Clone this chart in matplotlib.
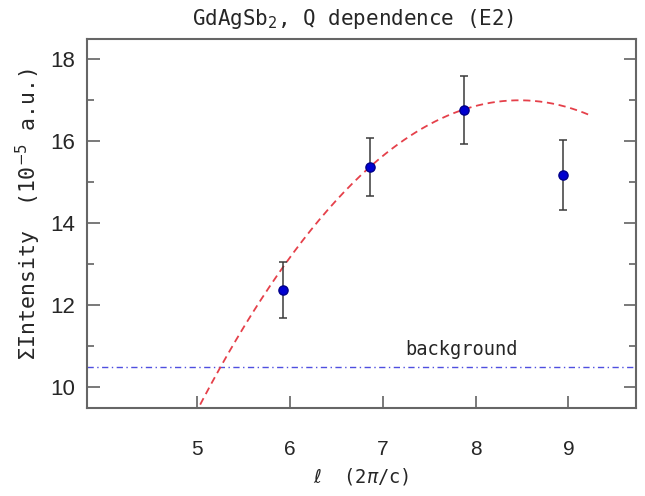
import numpy as np
import matplotlib
matplotlib.use("Agg")
import matplotlib.pyplot as plt
from matplotlib.ticker import MultipleLocator

# Measured integrated intensities vs l
l_values = [5.92, 6.86, 7.87, 8.94]
intensity = [12.38, 15.37, 16.77, 15.18]
intensity_err = [0.68, 0.71, 0.83, 0.85]

# Quadratic model curve: I(l) = I0 - k*(l - l0)^2
fit_vertex_l = 8.47
fit_vertex_I = 17.0
fit_curvature = 0.628
fit_l_range = [4.8, 9.23]

background_level = 10.5

x_ticks = [5, 6, 7, 8, 9]
y_ticks = [10, 12, 14, 16, 18]

mono = "DejaVu Sans Mono"
sans = "Liberation Sans"
text_color = "#262626"

fig = plt.figure(figsize=(6.45, 4.96), dpi=100)
ax = fig.add_axes([0.1344, 0.1774, 0.8516, 0.744])

# model curve
coeffs = np.array([-fit_curvature,
                   2 * fit_curvature * fit_vertex_l,
                   fit_vertex_I - fit_curvature * fit_vertex_l ** 2])
lc = np.linspace(fit_l_range[0], fit_l_range[1], 200)
ax.plot(lc, np.polyval(coeffs, lc), color="#e5404a", lw=1.3,
        dashes=(4, 2.6), zorder=2)

# background level
ax.axhline(background_level, color="#4f4fe0", lw=1.0,
           dashes=(4.5, 2.5, 1, 2.5), zorder=1)
ax.text(7.85, 10.93, "background", family=mono, fontsize=13.5,
        color=text_color, ha="center", va="center")

# data with error bars
ax.errorbar(l_values, intensity, yerr=intensity_err, fmt="o",
            color="#0000d0", mec="#00008a", ms=6.6, ecolor="#3a3a3a",
            elinewidth=1.1, capsize=3, capthick=1.1, zorder=3)

ax.set_xlim(3.81, 9.727)
ax.set_ylim(9.495, 18.495)
ax.set_xticks(x_ticks)
ax.set_yticks(y_ticks)
ax.yaxis.set_minor_locator(MultipleLocator(1))

for s in ax.spines.values():
    s.set_color("#666666")
    s.set_linewidth(1.5)

ax.tick_params(axis="both", which="both", direction="in", color="#555555",
               width=1.1)
ax.tick_params(axis="y", which="major", length=9, right=True, pad=8,
               labelsize=16)
ax.tick_params(axis="y", which="minor", length=5, right=True)
ax.tick_params(axis="x", which="major", length=9, pad=23, labelsize=15)
for lab in ax.get_xticklabels() + ax.get_yticklabels():
    lab.set_family(sans)
    lab.set_color(text_color)

ax.set_xlabel(r"$\ell$  (2$\pi$/c)", family=mono, fontsize=13.5,
              color=text_color, labelpad=5)
ax.set_ylabel(r"$\Sigma$Intensity  (10$^{-5}$ a.u.)", family=mono,
              fontsize=15.5, color=text_color)
ax.yaxis.set_label_coords(-0.08, 0.523)
ax.set_title(r"GdAgSb$_2$, Q dependence (E2)", family=mono, fontsize=15,
             color=text_color, pad=10, x=0.485)

fig.savefig("out.png", dpi=100)
